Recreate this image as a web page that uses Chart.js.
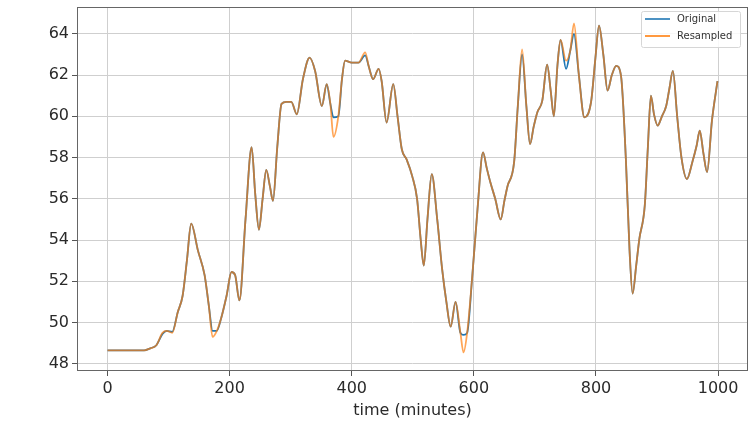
<!DOCTYPE html>
<html>
<head>
<meta charset="utf-8">
<script src="https://cdn.jsdelivr.net/npm/chart.js@4/dist/chart.umd.min.js"></script>
<style>
html,body{margin:0;padding:0;background:#fff;}
#wrap{width:756px;height:425px;position:relative;}
</style>
</head>
<body>
<div id="wrap"><canvas id="c" width="756" height="425"></canvas></div>
<script>
// time in minutes
const times = [0,20,40,60,70,80,90,97,106,115,123,130,137,148,159,166,172,179,186,195,203,209,216,226,236,242,248,254,260,266,271,278,285,293,301,310,320,331,340,351,359,365,370,378,384,389,400,411,422,428,435,444,449,457,468,475,482,490,499,507,513,518,524,531,540,548,555,562,570,578,583,589,597,606,615,621,627,635,644,650,655,666,672,679,686,692,698,704,712,720,726,731,737,742,751,758,764,772,781,792,799,805,812,819,826,833,841,849,855,860,866,871,880,885,890,895,901,908,915,920,926,933,940,949,958,965,970,976,982,990,999];
const original = [48.65,48.65,48.65,48.65,48.75,48.9,49.45,49.6,49.55,50.5,51.3,53.0,54.8,53.5,52.3,50.8,49.6,49.6,50.2,51.3,52.45,52.3,51.07,55.0,58.5,56.2,54.5,56.0,57.4,56.6,55.9,58.5,60.6,60.7,60.7,60.1,61.8,62.85,62.2,60.5,61.56,60.6,59.95,60.0,61.8,62.7,62.6,62.6,62.95,62.4,61.8,62.3,61.7,59.7,61.56,60.0,58.4,57.9,57.1,56.0,54.0,52.76,55.0,57.2,55.0,52.6,51.0,49.8,51.0,49.5,49.4,49.5,52.1,55.5,58.25,57.5,56.8,56.0,55.0,55.9,56.6,57.8,60.5,63.0,60.5,58.65,59.5,60.2,60.75,62.5,61.2,60.0,62.5,63.7,62.3,63.2,64.0,62.0,59.95,60.7,62.8,64.4,63.0,61.25,62.0,62.45,61.96,57.9,53.5,51.4,52.8,54.05,55.7,58.5,61.0,60.1,59.55,60.0,60.5,61.3,62.2,60.0,58.0,56.96,57.8,58.6,59.3,58.2,57.3,59.8,61.7];
const resampled = [48.65,48.65,48.65,48.65,48.75,48.9,49.5,49.6,49.5,50.5,51.3,53.0,54.8,53.5,52.3,50.8,49.3,49.6,50.2,51.3,52.45,52.3,51.07,55.0,58.5,56.2,54.5,56.0,57.4,56.6,55.9,58.5,60.6,60.7,60.7,60.1,61.8,62.85,62.2,60.5,61.56,60.6,59.0,60.0,61.8,62.7,62.6,62.6,63.1,62.4,61.8,62.3,61.7,59.7,61.56,60.0,58.4,57.9,57.1,56.0,54.0,52.76,55.0,57.2,55.0,52.6,51.0,49.8,51.0,49.5,48.55,49.5,52.1,55.5,58.25,57.5,56.8,56.0,55.0,55.9,56.6,57.8,60.5,63.25,60.5,58.65,59.5,60.2,60.75,62.5,61.2,60.0,62.5,63.7,62.7,63.2,64.5,62.0,59.95,60.7,62.8,64.4,63.0,61.25,62.0,62.45,61.96,57.9,53.5,51.4,52.8,54.05,55.7,58.5,61.0,60.1,59.55,60.0,60.5,61.3,62.2,60.0,58.0,56.96,57.8,58.6,59.3,58.2,57.3,59.8,61.7];
const xTicks = [0,200,400,600,800,1000];
const yTicks = [48,50,52,54,56,58,60,62,64];
const seriesNames = ['Original','Resampled'];
const xTitle = 'time (minutes)';

const BLUE = '#1f77b4';
const ORANGE = 'rgba(255,127,14,0.7)';

const toPts = (vals) => times.map((t,i)=>({x:t,y:vals[i]}));

const framePlugin = {
  id:'frame',
  afterDraw(chart){
    const ctx = chart.ctx, a = chart.chartArea;
    ctx.save();
    ctx.strokeStyle = '#666';
    ctx.lineWidth = 1;
    ctx.strokeRect(Math.round(a.left)+0.5, Math.round(a.top)+0.5, Math.round(a.right-a.left)-1, Math.round(a.bottom-a.top)-1);
    // legend box
    const bx = 641.5, by = 11.5, bw = 99, bh = 36;
    ctx.fillStyle = 'rgba(255,255,255,0.85)';
    ctx.strokeStyle = '#d6d6d6';
    ctx.beginPath();
    if (ctx.roundRect) ctx.roundRect(bx,by,bw,bh,2); else ctx.rect(bx,by,bw,bh);
    ctx.fill(); ctx.stroke();
    ctx.font = '10px "DejaVu Sans"';
    ctx.textBaseline = 'middle';
    chart.data.datasets.forEach((ds,i)=>{
      const y = by + 7.5 + i*17;
      ctx.strokeStyle = i===0 ? BLUE : '#ff7f0e';
      ctx.lineWidth = 1.6;
      ctx.beginPath(); ctx.moveTo(645,y); ctx.lineTo(670,y); ctx.stroke();
      ctx.fillStyle = '#333';
      ctx.fillText(ds.label, 677, y);
    });
    ctx.restore();
  }
};

new Chart(document.getElementById('c'), {
  type:'line',
  data:{
    datasets:[
      {label:seriesNames[0], order:1, data:toPts(original), borderColor:BLUE, borderWidth:1.8, pointRadius:0, cubicInterpolationMode:'monotone', fill:false},
      {label:seriesNames[1], order:0, data:toPts(resampled), borderColor:ORANGE, borderWidth:1.8, pointRadius:0, cubicInterpolationMode:'monotone', fill:false}
    ]
  },
  options:{
    responsive:false,
    animation:false,
    events:[],
    layout:{padding:{left:0,right:8,top:7,bottom:0}},
    plugins:{legend:{display:false}, tooltip:{enabled:false}},
    scales:{
      x:{
        type:'linear', min:-50, max:1049,
        afterBuildTicks(s){ s.ticks = xTicks.map(v=>({value:v})); },
        afterFit(s){ s.height = 54; s.paddingLeft = 0; s.paddingRight = 0; },
        grid:{color:'#cfcfcf', lineWidth:1, tickLength:5, tickColor:'#555'},
        border:{display:false},
        ticks:{color:'#2a2a2a', font:{family:'"DejaVu Sans"', size:16}, padding:3, maxRotation:0, autoSkip:false, callback:(v)=>String(v)},
        title:{display:true, text:xTitle, color:'#2a2a2a', font:{family:'"DejaVu Sans"', size:16}, padding:{top:0,bottom:5}}
      },
      y:{
        type:'linear', min:47.65, max:65.3,
        afterBuildTicks(s){ s.ticks = yTicks.map(v=>({value:v})); },
        afterFit(s){ s.width = 77; s.paddingTop = 0; s.paddingBottom = 0; },
        grid:{color:'#cfcfcf', lineWidth:1, tickLength:5, tickColor:'#555'},
        border:{display:false},
        ticks:{color:'#2a2a2a', font:{family:'"DejaVu Sans"', size:16}, padding:3, autoSkip:false, callback:(v)=>String(v)}
      }
    }
  },
  plugins:[framePlugin]
});
</script>
</body>
</html>
